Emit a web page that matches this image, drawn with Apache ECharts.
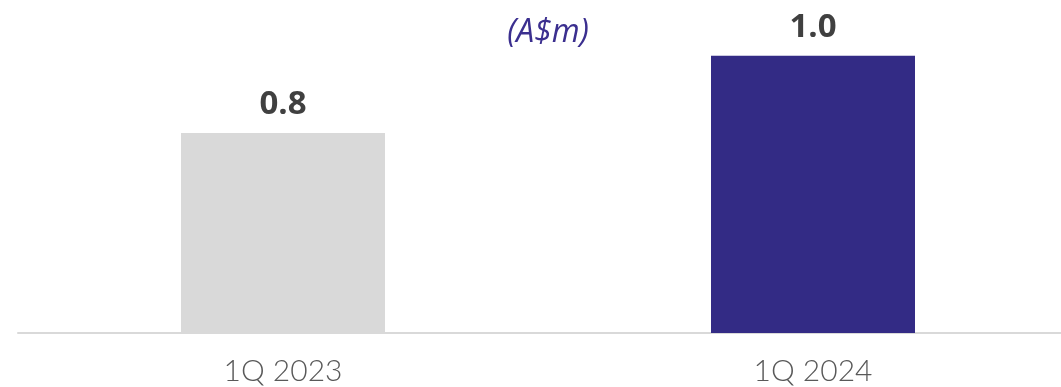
<!DOCTYPE html>
<html>
<head>
<meta charset="UTF-8">
<title></title>
<style>html,body{margin:0;padding:0;background:#fff;overflow:hidden;}#charts{width:1078px;height:387px;}</style>
</head>
<body>
<div id="charts"></div>
<script src="https://cdn.jsdelivr.net/npm/echarts@6/dist/echarts.min.js"></script>
<script>
var categories = ['1Q 2023', '1Q 2024'];
var values = [0.75, 1.04];
var barColors = ['#d9d9d9', '#332b85'];
var unitText = '(A$m)';

// canvas is a bit wider than the window so the second category lands where the reference has it
var mycharts = echarts.init(document.getElementById('charts'));

var option = {
    backgroundColor: '#fff',
    animation: false,
    grid: { left: 18, right: 0, top: 13, bottom: 54 },
    graphic: [{
        type: 'text',
        x: 548, y: 17,
        style: { text: unitText, fill: '#3b2f8f', font: 'italic 32px "Open Sans"', textAlign: 'center' }
    }],
    xAxis: {
        type: 'category',
        data: categories,
        axisLine: { lineStyle: { color: '#d9d9d9', width: 2 } },
        axisTick: { show: false },
        axisLabel: { color: '#595959', fontSize: 30, fontFamily: 'Lato', fontWeight: 300, margin: 23 }
    },
    yAxis: {
        type: 'value', min: 0, max: 1.2,
        show: false,
        splitLine: { show: false }
    },
    series: [{
        type: 'bar',
        barWidth: 204,
        data: values.map(function (v, i) {
            return { value: v, itemStyle: { color: barColors[i] } };
        }),
        label: {
            show: true,
            position: 'top',
            distance: 12,
            color: '#404040',
            fontSize: 33,
            fontWeight: 'bold',
            fontFamily: 'Open Sans',
            formatter: function (p) { return p.value.toFixed(1); }
        }
    }]
};
mycharts.setOption(option);
</script>
</body>
</html>
